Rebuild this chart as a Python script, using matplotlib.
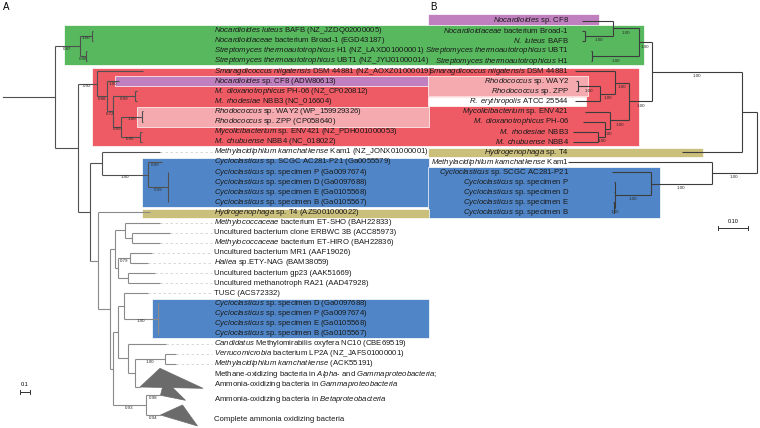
import re
import matplotlib
matplotlib.use("Agg")
import matplotlib.pyplot as plt
from matplotlib.patches import Rectangle, Polygon
from matplotlib.collections import LineCollection

plt.rcParams["font.family"] = ["Liberation Sans", "DejaVu Sans"]
plt.rcParams["mathtext.fontset"] = "custom"
plt.rcParams["mathtext.rm"] = "Liberation Sans"
plt.rcParams["mathtext.it"] = "Liberation Sans:italic"
plt.rcParams["mathtext.bf"] = "Liberation Sans:bold"

# ---------------- tree A (branch lengths in subst./site)
LABELS_A = [
    "*Nocardioides luteus* BAFB (NZ_JZDQ02000005)",
    "*Nocardioidaceae* bacterium Broad-1 (EGD43187)",
    "*Streptomyces thermoautotrophicus* H1 (NZ_LAXD01000001)",
    "*Streptomyces thermoautotrophicus* UBT1 (NZ_JYIJ01000014)",
    "*Smaragdicoccus niigatensis* DSM 44881 (NZ_AOXZ01000019)",
    "*Nocardioides* sp. CF8 (ADW80613)",
    "*M. dioxanotrophicus* PH-06 (NZ_CP020812)",
    "*M. rhodesiae* NBB3 (NC_016604)",
    "*Rhodococcus* sp. WAY2 (WP_159929326)",
    "*Rhodococcus* sp. ZPP (CP058640)",
    "*Mycolicibacterium* sp. ENV421 (NZ_PDH001000053)",
    "*M. chubuense* NBB4 (NC_018022)",
    "*Methylacidiphilum kamchatkense* Kam1 (NZ_JONX01000001)",
    "*Cycloclasticus* sp. SCGC AC281-P21 (Ga0055579)",
    "*Cycloclasticus* sp. specimen P (Ga0097674)",
    "*Cycloclasticus* sp. specimen D (Ga0097688)",
    "*Cycloclasticus* sp. specimen E (Ga0105568)",
    "*Cycloclasticus* sp. specimen B (Ga0105567)",
    "*Hydrogenophaga* sp. T4 (AZS001000022)",
    "*Methylococcaceae* bacterium ET-SHO (BAH22833)",
    "Uncultured bacterium clone ERBWC 3B (ACC85973)",
    "*Methylococcaceae* bacterium ET-HIRO (BAH22836)",
    "Uncultured bacterium MR1 (AAF19026)",
    "*Haliea* sp.ETY-NAG (BAM38059)",
    "Uncultured bacterium gp23 (AAK51669)",
    "Uncultured methanotroph RA21 (AAD47928)",
    "TUSC (ACS72332)",
    "*Cycloclasticus* sp. specimen D (Ga0097688)",
    "*Cycloclasticus* sp. specimen P (Ga0097674)",
    "*Cycloclasticus* sp. specimen E (Ga0105568)",
    "*Cycloclasticus* sp. specimen B (Ga0105567)",
    "*Candidatus* Methylomirabilis oxyfera NC10 (CBE69519)",
    "*Verrucomicrobia* bacterium LP2A (NZ_JAFS01000001)",
    "*Methylacidiphilum kamchatkense* (ACK55191)",
]
COLLAPSED_A = [
    "Methane-oxidizing bacteria in *Alpha*- and *Gammaproteobacteria*;\n"
    "Ammonia-oxidizing bacteria in *Gammaproteobacteria*",
    "Ammonia-oxidizing bacteria in *Betaproteobacteria*",
    "Complete ammonia oxidizing bacteria",
]
TREE_A = (
    "(((a0:0.01,a1:0.01)1.00:0.12,(a2:0.01,a3:0.01)0.96:0.06)0.87:0.25,"
    "((a4:0.46,(a5:0.12,((a6:0.02,a7:0.02)0.99:0.22,((a8:0.01,a9:0.01)1.00:0.21,"
    "(a10:0.02,a11:0.02)0.95:0.19)0.99:0.08)0.72:0.06)0.88:0.10)0.92:0.19,"
    "((a12:0.58,(a13:0.14,(a14:0.005,a15:0.005,a16:0.005,a17:0.005)0.99:0.20)1.00:0.46):0.12,"
    "(a18:0.52,(((a19:0.35,(a20:0.38,a21:0.28):0.067):0.10,"
    "((a22:0.22,a23:0.18)0.79:0.117,(a24:0.27,a25:0.32):0.10):0.033):0.05,"
    "(((a26:0.243,(a27:0.005,a28:0.005,a29:0.005,a30:0.005)1.00:0.343):0.06,"
    "(a31:0.377,((a32:0.11,a33:0.11)1.00:0.30,c0:0.05):0.067):0.103):0.055,"
    "(c1:0.15,c2:0.15)0.93:0.33):0.025):0.123):0.077):0.12):0.23)"
)
LEAF_SUPPORT_A = {"a5": "1.00", "a13": "0.99", "c1": "0.98", "c2": "0.94"}
ROOT_STUB_A = 0.52
# collapsed clades: apex row offset, (row offset, extra length) of top and bottom corners
TRI_APEX = [1.28, 0.10, 0.05]
TRI_TOP = [(-0.57, 0.20), (-1.45, 0.04), (-0.94, 0.22)]
TRI_BOTTOM = [(1.41, 0.63), (0.60, 0.25), (1.14, 0.37)]

# ---------------- tree B
LABELS_B = [
    "*Nocardioides* sp. CF8",
    "*Nocardioidaceae* bacterium Broad-1",
    "*N. luteus* BAFB",
    "*Streptomyces thermoautotrophicus* UBT1",
    "*Streptomyces thermoautotrophicus* H1",
    "*Smaragdicoccus niigatensis* DSM 44881",
    "*Rhodococcus* sp. WAY2",
    "*Rhodococcus* sp. ZPP",
    "*R. erythropolis* ATCC 25544",
    "*Mycolicibacterium* sp. ENV421",
    "*M. dioxanotrophicus* PH-06",
    "*M. rhodesiae* NBB3",
    "*M. chubuense* NBB4",
    "*Hydrogenophaga* sp. T4",
    "*Methylacidiphilum kamchatkense* Kam1",
    "*Cycloclasticus* sp. SCGC AC281-P21",
    "*Cycloclasticus* sp. specimen P",
    "*Cycloclasticus* sp. specimen D",
    "*Cycloclasticus* sp. specimen E",
    "*Cycloclasticus* sp. specimen B",
]
TREE_B = (
    "(((((b0:0.101,(b1:0.010,b2:0.010)1.00:0.091)1.00:0.086,(b3:0.003,b4:0.003)1.00:0.153)1.00:0.042,"
    "((b5:0.131,((b6:0.008,b7:0.008)1.00:0.071,b8:0.082)1.00:0.049)1.00:0.047,"
    "(b9:0.082,(b10:0.071,(b11:0.082,b12:0.082)1.00:0.022)1.00:0.016)1.00:0.063)1.00:0.073)1.00:0.294,"
    "b13:0.196):0.050,"
    "(b14:0.469,(b15:0.127,(b16:0.003,b17:0.003,(b18:0.002,b19:0.002)1.00:0.003)1.00:0.117)1.00:0.199)1.00:0.148)"
)


def parse(s):
    pos = 0

    def node():
        nonlocal pos
        n = {"ch": [], "name": None, "sup": None, "len": 0.0}
        if s[pos] == "(":
            pos += 1
            n["ch"].append(node())
            while s[pos] == ",":
                pos += 1
                n["ch"].append(node())
            pos += 1
        tok = re.match(r"[^:,()]*", s[pos:]).group(0)
        pos += len(tok)
        if n["ch"]:
            n["sup"] = tok or None
        else:
            n["name"] = tok
        if pos < len(s) and s[pos] == ":":
            m = re.match(r":([0-9.]+)", s[pos:])
            n["len"] = float(m.group(1))
            pos += len(m.group(0))
        return n

    return node()


def layout(tree, span, apex):
    row = [0.0]
    leaves = []

    def walk(n, d):
        n["x"] = d + n["len"]
        for c in n["ch"]:
            walk(c, n["x"])
        if n["ch"]:
            n["y"] = (n["ch"][0]["y"] + n["ch"][-1]["y"]) / 2
            n["rmin"] = n["ch"][0]["rmin"]
        else:
            n["row"] = n["rmin"] = row[0]
            n["y"] = row[0] + apex.get(n["name"], 0.0)
            row[0] += span.get(n["name"], 1)
            leaves.append(n)

    walk(tree, 0.0)
    return leaves


def rich(s):
    return re.sub(r"\*(.+?)\*",
                  lambda m: "$\\mathit{" + m.group(1).replace(" ", "\\ ") + "}$", s)


def draw_tree(ax, root, color_of, lw, sup_dy, leaf_sup, fs_sup):
    segs, cols = [], []

    def walk(n, parent):
        if n["ch"]:
            segs.append([(n["x"], n["ch"][0]["y"]), (n["x"], n["ch"][-1]["y"])])
            cols.append(color_of(n))
        for c in n["ch"]:
            segs.append([(n["x"], c["y"]), (c["x"], c["y"])])
            cols.append(color_of(c))
            walk(c, n)
        lab = n["sup"] if n["ch"] else leaf_sup.get(n["name"])
        if lab and parent is not None:
            ax.text((parent["x"] + n["x"]) / 2, n["y"] + sup_dy, lab, fontsize=fs_sup,
                    ha="center", va="center", color="#2a2a2a")

    walk(root, None)
    ax.add_collection(LineCollection(segs, colors=cols, linewidths=lw, capstyle="butt"))


fig = plt.figure(figsize=(7.6, 4.28), dpi=100)

# background highlight boxes (pixel space)
base = fig.add_axes([0, 0, 1, 1])
base.set_xlim(0, 760)
base.set_ylim(428, 0)
base.axis("off")
GREEN, RED, PURPLE, PINK = "#57b85e", "#ee5b64", "#c07fbe", "#f5aab0"
BLUE, OLIVE = "#5086c7", "#cbbf7c"
boxes = [
    (428, 599, 14, 26, PURPLE),
    (64, 644, 25, 64.5, GREEN),
    (92, 639, 67.5, 146, RED),
    (115, 429, 76, 85.5, PURPLE),
    (137, 429, 106.5, 127, PINK),
    (428, 588, 76, 96, PINK),
    (428, 586, 96.5, 105.5, "white"),
    (428, 703, 148, 157, OLIVE),
    (142, 429, 157.5, 207, BLUE),
    (428, 660, 167, 217.5, BLUE),
    (142, 429, 208.5, 217.5, OLIVE),
    (152, 429, 298.5, 338, BLUE),
]
for x0, x1, y0, y1, col in boxes:
    base.add_patch(Rectangle((x0, y0), x1 - x0, y1 - y0, facecolor=col,
                             edgecolor="white", linewidth=0.5, zorder=1))
base.text(6.5, 7, "A", fontsize=7, ha="center", va="center")
base.text(433, 7, "B", fontsize=7, ha="center", va="center")

# ---- tree A
axA = fig.add_axes([0, 0, 1, 1])
axA.set_xlim(-0.55, 7.05)
axA.set_ylim(39.34, -3.04)
axA.axis("off")
axA.patch.set_visible(False)

rootA = parse(TREE_A)
spanA = {f"c{k}": 2 for k in range(len(COLLAPSED_A))}
apexA = {f"c{k}": TRI_APEX[k] for k in range(len(COLLAPSED_A))}
leavesA = layout(rootA, spanA, apexA)
# the lower (Hydrogenophaga and below) part of tree A is drawn in a lighter grey
draw_tree(axA, rootA, lambda n: "#8a8a8a" if n["rmin"] >= 18 else "#505050",
          0.8, 0.27, LEAF_SUPPORT_A, 3.2)
axA.plot([-ROOT_STUB_A, 0], [rootA["y"], rootA["y"]], color="#505050", lw=0.8)

LABEL_X_A = 1.595
for lf in leavesA:
    name = lf["name"]
    if name.startswith("a"):
        # dotted leader sits underneath the highlight boxes
        base.plot([lf["x"], LABEL_X_A - 0.03], [lf["y"], lf["y"]], color="#d2d2d2",
                  lw=0.6, dashes=(3, 3), transform=axA.transData, zorder=0.5)
        axA.text(LABEL_X_A, lf["row"], rich(LABELS_A[int(name[1:])]), fontsize=5.6,
                 ha="left", va="center", color="#1a1a1a")
    else:
        k = int(name[1:])
        (t_off, t_len), (b_off, b_len) = TRI_TOP[k], TRI_BOTTOM[k]
        axA.add_patch(Polygon([(lf["x"], lf["y"]),
                               (lf["x"] + t_len, lf["row"] + t_off),
                               (lf["x"] + b_len, lf["row"] + b_off)],
                              closed=True, facecolor="#6b6b6b", edgecolor="#6b6b6b", lw=0.5))
        lines = COLLAPSED_A[k].split("\n")
        for i, line in enumerate(lines):
            yy = lf["row"] + i if len(lines) > 1 else lf["row"] + 0.5
            axA.text(LABEL_X_A, yy, rich(line), fontsize=5.6, ha="left", va="center",
                     color="#1a1a1a")

# scale bar A
axA.plot([-0.35, -0.25], [35.74, 35.74], color="#333333", lw=0.7)
for xx in (-0.35, -0.25):
    axA.plot([xx, xx], [35.55, 35.93], color="#333333", lw=0.7)
axA.text(-0.30, 35.0, "0.1", fontsize=4, ha="center", va="center")

# ---- tree B (root on the right)
axB = fig.add_axes([0, 0, 1, 1])
axB.set_xlim(757 / 306, -3 / 306)
axB.set_ylim((428 - 20.7) / 10.1, -20.7 / 10.1)
axB.axis("off")
axB.patch.set_visible(False)

rootB = parse(TREE_B)
leavesB = layout(rootB, {}, {})
draw_tree(axB, rootB, lambda n: "#3c3c3c", 0.8, 0.45, {}, 3.2)

LABEL_X_B = (757 - 569) / 306
for lf in leavesB:
    axB.text(LABEL_X_B, lf["row"], rich(LABELS_B[int(lf["name"][1:])]), fontsize=5.6,
             ha="right", va="center", color="#1a1a1a")

# scale bar B
axB.plot([0.028, 0.128], [20.5, 20.5], color="#333333", lw=0.7)
for xx in (0.028, 0.128):
    axB.plot([xx, xx], [20.32, 20.68], color="#333333", lw=0.7)
axB.text(0.078, 19.9, "0.10", fontsize=4, ha="center", va="center")

fig.savefig("out.png", dpi=100)
